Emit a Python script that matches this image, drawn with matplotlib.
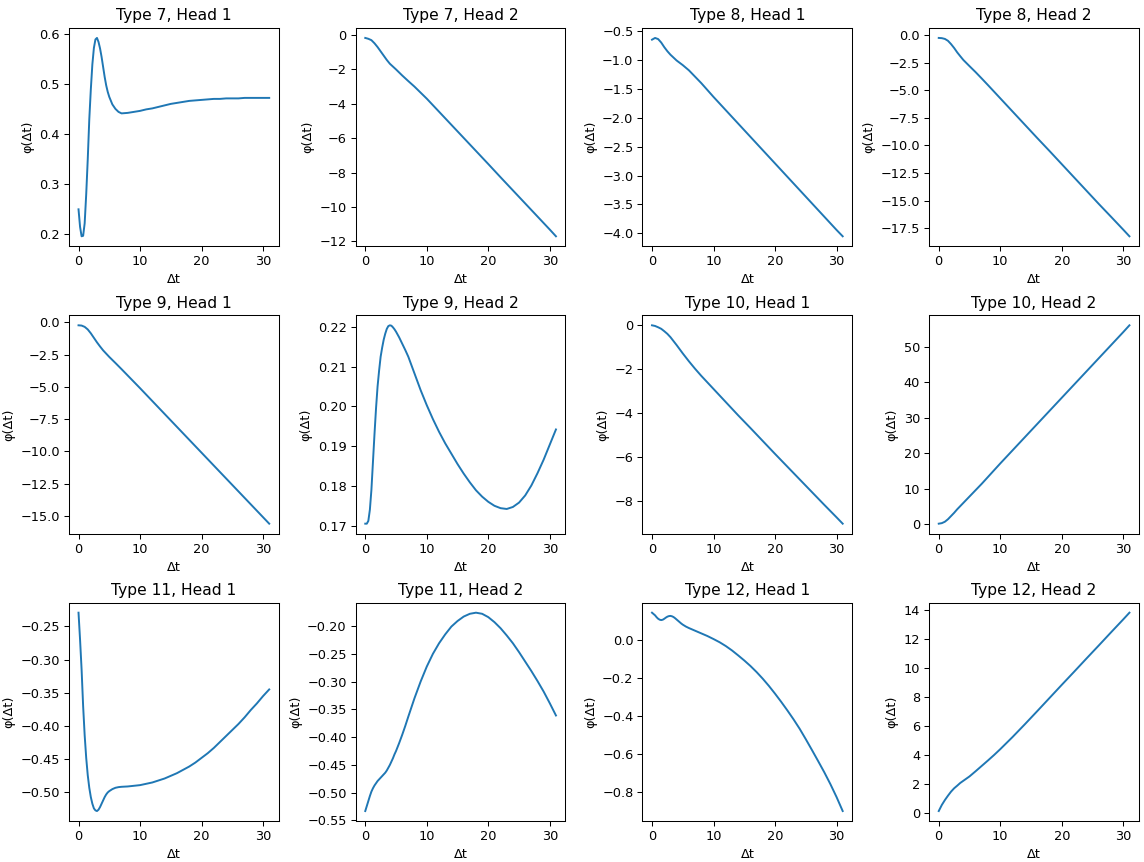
import matplotlib
matplotlib.use('Agg')
import matplotlib.pyplot as plt

DPI = 93

# Δt grid for the nearly straight curves
dt = [0, 0.5, 1, 1.5, 2, 2.5, 3, 3.5, 4, 5, 6, 7, 8, 9, 10,
      12, 14, 16, 18, 20, 22, 24, 26, 28, 30, 31]
# finer Δt grid for the curvy ones
dt_fine = [0, 0.25, 0.5, 0.75, 1, 1.25, 1.5, 1.75, 2, 2.25, 2.5, 2.75, 3, 3.25, 3.5, 3.75,
           4, 4.25, 4.5, 4.75, 5, 5.5, 6, 6.5, 7, 8, 9, 10, 11, 12, 13, 14, 15, 16, 17, 18,
           19, 20, 21, 22, 23, 24, 25, 26, 27, 28, 29, 30, 31]

type7_head1 = [0.25, 0.215, 0.196, 0.197, 0.222, 0.28, 0.35, 0.43, 0.49, 0.54, 0.573, 0.59, 0.593,
               0.585, 0.572, 0.555, 0.535, 0.515, 0.498, 0.485, 0.475, 0.46, 0.451, 0.445, 0.442,
               0.443, 0.445, 0.447, 0.45, 0.452, 0.455, 0.458, 0.461, 0.463, 0.465, 0.467, 0.468,
               0.469, 0.47, 0.471, 0.471, 0.472, 0.472, 0.472, 0.473, 0.473, 0.473, 0.473, 0.473]
type7_head2 = [-0.17, -0.22, -0.3, -0.48, -0.7, -0.95, -1.2, -1.45, -1.67, -2.0, -2.35, -2.68, -3.0,
               -3.35, -3.7, -4.46, -5.22, -5.98, -6.74, -7.5, -8.27, -9.03, -9.79, -10.55, -11.31, -11.7]
type8_head1 = [-0.65, -0.62, -0.64, -0.7, -0.78, -0.85, -0.91, -0.96, -1.01, -1.09, -1.18, -1.29, -1.4,
               -1.52, -1.64, -1.87, -2.1, -2.33, -2.56, -2.79, -3.02, -3.25, -3.48, -3.71, -3.94, -4.05]
type8_head2 = [-0.24, -0.26, -0.33, -0.5, -0.8, -1.15, -1.55, -1.9, -2.24, -2.8, -3.35, -3.93, -4.52,
               -5.12, -5.72, -6.92, -8.12, -9.32, -10.5, -11.7, -12.9, -14.1, -15.3, -16.47, -17.65, -18.25]
type9_head1 = [-0.23, -0.25, -0.35, -0.55, -0.85, -1.2, -1.55, -1.87, -2.17, -2.68, -3.15, -3.63, -4.12,
               -4.61, -5.1, -6.1, -7.1, -8.1, -9.1, -10.1, -11.1, -12.1, -13.1, -14.1, -15.1, -15.6]
type9_head2 = [0.1705, 0.1705, 0.1712, 0.174, 0.179, 0.186, 0.193, 0.1995, 0.205, 0.209, 0.2125,
               0.2148, 0.2168, 0.2183, 0.2195, 0.2202, 0.2204, 0.2203, 0.2199, 0.2194, 0.2188, 0.2174,
               0.2158, 0.2142, 0.2125, 0.2083, 0.2041, 0.2003, 0.1968, 0.1936, 0.1907, 0.1881, 0.1855,
               0.1831, 0.1809, 0.1789, 0.1773, 0.176, 0.175, 0.1744, 0.1742, 0.1747, 0.1758, 0.1776,
               0.1801, 0.1832, 0.1866, 0.1904, 0.1942]
type10_head1 = [0.0, -0.03, -0.09, -0.16, -0.27, -0.39, -0.54, -0.72, -0.9, -1.28, -1.64, -1.98, -2.3,
                -2.6, -2.9, -3.5, -4.1, -4.68, -5.27, -5.86, -6.44, -7.02, -7.6, -8.18, -8.75, -9.04]
type10_head2 = [0.15, 0.3, 0.7, 1.4, 2.3, 3.2, 4.2, 5.1, 6.0, 7.8, 9.6, 11.4, 13.3, 15.2, 17.1,
                20.8, 24.5, 28.2, 31.9, 35.6, 39.3, 43.0, 46.7, 50.4, 54.1, 56.0]
type11_head1 = [-0.2295, -0.27, -0.315, -0.37, -0.414, -0.448, -0.474, -0.493, -0.507, -0.517, -0.524,
                -0.527, -0.528, -0.526, -0.522, -0.517, -0.512, -0.507, -0.503, -0.5, -0.498, -0.495,
                -0.493, -0.492, -0.4915, -0.491, -0.49, -0.489, -0.487, -0.485, -0.482, -0.479, -0.475,
                -0.471, -0.466, -0.461, -0.455, -0.448, -0.441, -0.433, -0.424, -0.415, -0.406, -0.397,
                -0.387, -0.376, -0.366, -0.355, -0.345]
type11_head2 = [-0.533, -0.524, -0.515, -0.506, -0.498, -0.492, -0.487, -0.483, -0.479, -0.476, -0.473,
                -0.47, -0.467, -0.464, -0.46, -0.455, -0.45, -0.444, -0.438, -0.431, -0.425, -0.411,
                -0.396, -0.38, -0.363, -0.33, -0.3, -0.273, -0.25, -0.231, -0.215, -0.201, -0.191,
                -0.183, -0.178, -0.176, -0.178, -0.184, -0.193, -0.204, -0.217, -0.231, -0.247, -0.264,
                -0.281, -0.299, -0.318, -0.339, -0.361]
type12_head1 = [0.146, 0.139, 0.132, 0.122, 0.114, 0.109, 0.107, 0.109, 0.114, 0.12, 0.125, 0.128, 0.129,
                0.127, 0.123, 0.117, 0.11, 0.103, 0.096, 0.089, 0.083, 0.073, 0.065, 0.058, 0.051, 0.037,
                0.023, 0.007, -0.01, -0.03, -0.053, -0.079, -0.106, -0.135, -0.167, -0.202, -0.24,
                -0.281, -0.324, -0.369, -0.416, -0.466, -0.521, -0.578, -0.636, -0.695, -0.758, -0.826,
                -0.9]
type12_head2 = [0.11, 0.53, 0.87, 1.17, 1.45, 1.68, 1.86, 2.05, 2.2, 2.5, 2.86, 3.23, 3.6, 3.98, 4.38,
                5.22, 6.1, 7.0, 7.91, 8.82, 9.72, 10.63, 11.53, 12.44, 13.34, 13.8]

types = [7, 8, 9, 10, 11, 12]
curves = [(dt_fine, type7_head1), (dt, type7_head2), (dt, type8_head1), (dt, type8_head2),
          (dt, type9_head1), (dt_fine, type9_head2), (dt, type10_head1), (dt, type10_head2),
          (dt_fine, type11_head1), (dt_fine, type11_head2), (dt_fine, type12_head1), (dt, type12_head2)]

fig, axes = plt.subplots(3, 4, figsize=(1144 / DPI, 862 / DPI), dpi=DPI)
fig.subplots_adjust(left=0.0603, right=0.9956, top=0.9675, bottom=0.0476,
                    wspace=0.367, hspace=0.317)

for i, ax in enumerate(axes.flat):
    t = types[i // 2]
    head = i % 2 + 1
    x, y = curves[i]
    ax.plot(x, y, color='#1f77b4', linewidth=1.5)
    ax.set_title(f"Type {t}, Head {head}")
    ax.set_xlabel("Δt")
    ax.set_ylabel("φ(Δt)")

fig.savefig("out.png", dpi=DPI)
